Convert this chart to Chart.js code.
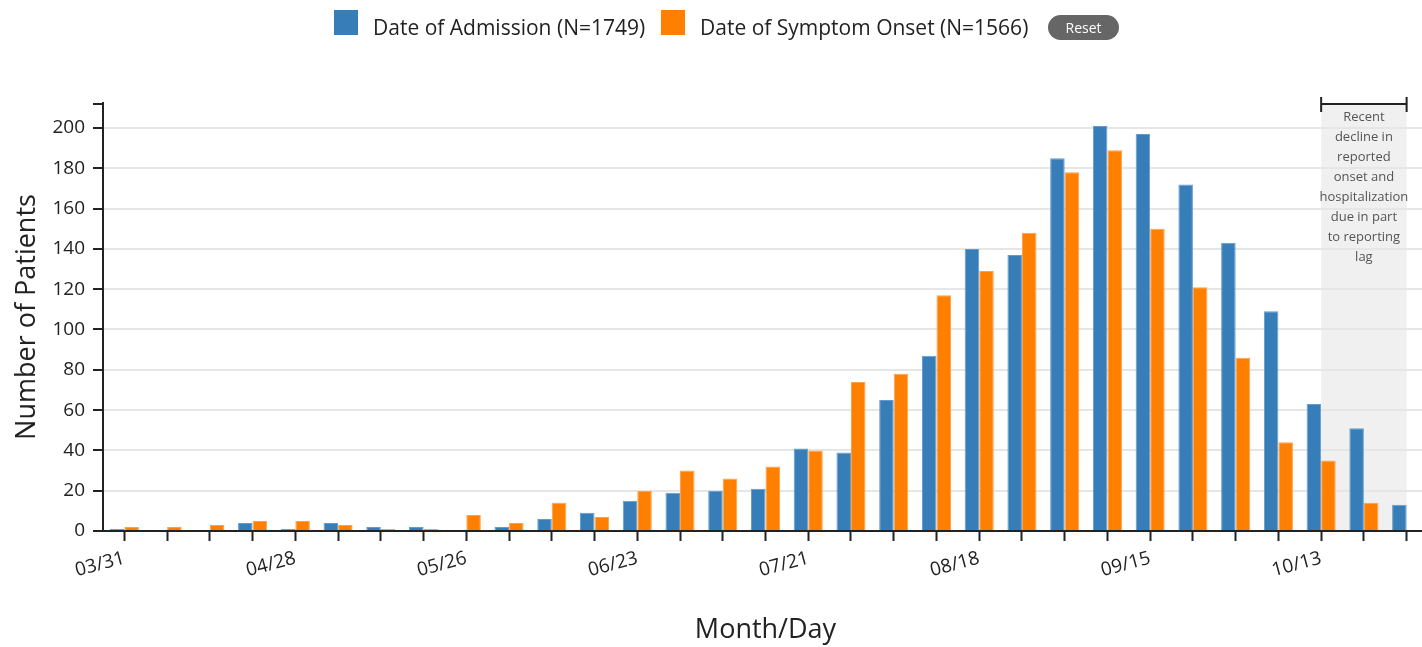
<!DOCTYPE html>
<html>
<head>
<meta charset="utf-8">
<script src="https://cdn.jsdelivr.net/npm/chart.js@4"></script>
<style>
  html, body { margin: 0; padding: 0; background: #fff; overflow: hidden; }
  #wrap { position: relative; width: 1432px; height: 647px; }
  #legend { position: absolute; left: 0; top: 0; width: 1422px; height: 50px; font-family: "Open Sans", sans-serif; color: #222; }
  .box { position: absolute; top: 10px; width: 24px; height: 25px; }
  .lbl { position: absolute; top: 13px; font-size: 21px; line-height: 28px; white-space: nowrap; }
  #reset { position: absolute; left: 1048px; top: 15px; width: 71px; height: 25px; border-radius: 13px; background: #666; color: #fff; font-size: 14px; line-height: 25px; text-align: center; }
</style>
</head>
<body>
<div id="wrap">
  <canvas id="c" width="1432" height="647"></canvas>
  <div id="legend">
    <div class="box" style="left:334px;background:#377eb8"></div>
    <div class="lbl" id="l1" style="left:373px"></div>
    <div class="box" style="left:661px;background:#ff7f00"></div>
    <div class="lbl" id="l2" style="left:700px"></div>
    <div id="reset">Reset</div>
  </div>
</div>
<script>
// ---- data ----
const weeks = ['03/31','04/07','04/14','04/21','04/28','05/05','05/12','05/19','05/26','06/02','06/09','06/16','06/23','06/30','07/07','07/14','07/21','07/28','08/04','08/11','08/18','08/25','09/01','09/08','09/15','09/22','09/29','10/06','10/13','10/20','10/27'];
const admission = [1,0,0,4,1,4,2,2,0,2,6,9,15,19,20,21,41,39,65,87,140,137,185,201,197,172,143,109,63,51,13];
const onset     = [2,2,3,5,5,3,1,1,8,4,14,7,20,30,26,32,40,74,78,117,129,148,178,189,150,121,86,44,35,14,0];
const labeledWeeks = ['03/31','04/28','05/26','06/23','07/21','08/18','09/15','10/13'];
const yTicks = [0,20,40,60,80,100,120,140,160,180,200];
const seriesNames = ['Date of Admission (N=1749)','Date of Symptom Onset (N=1566)'];
const lagStart = '10/13', lagEnd = '10/27';
const lagNote = ['Recent','decline in','reported','onset and','hospitalization','due in part','to reporting','lag'];
const xTitle = 'Month/Day', yTitle = 'Number of Patients';

document.getElementById('l1').textContent = seriesNames[0];
document.getElementById('l2').textContent = seriesNames[1];

Chart.defaults.font.family = '"Open Sans", sans-serif';
Chart.defaults.color = '#222';

const AXIS = '#222';

const lagPlugin = {
  id: 'lag',
  beforeDraw(chart) {
    const {ctx, chartArea, scales} = chart;
    const x0 = scales.x.getPixelForValue(weeks.indexOf(lagStart));
    const x1 = scales.x.getPixelForValue(weeks.indexOf(lagEnd));
    ctx.save();
    ctx.fillStyle = '#f0f0f0';
    ctx.fillRect(x0, chartArea.top, x1 - x0, chartArea.bottom - chartArea.top);
    ctx.restore();
  },
  afterDraw(chart) {
    const {ctx, chartArea, scales} = chart;
    const x0 = scales.x.getPixelForValue(weeks.indexOf(lagStart));
    const x1 = scales.x.getPixelForValue(weeks.indexOf(lagEnd));
    const yb = chartArea.top + 1;
    ctx.save();
    ctx.strokeStyle = AXIS;
    ctx.lineWidth = 2;
    ctx.beginPath();
    ctx.moveTo(x0, yb); ctx.lineTo(x1, yb);
    ctx.moveTo(x0, yb - 7); ctx.lineTo(x0, yb + 8);
    ctx.moveTo(x1, yb - 7); ctx.lineTo(x1, yb + 8);
    // y-axis outer end tick
    ctx.moveTo(chartArea.left - 10, chartArea.top + 1); ctx.lineTo(chartArea.left, chartArea.top + 1);
    ctx.stroke();
    ctx.fillStyle = '#555';
    ctx.font = '13px "Open Sans", sans-serif';
    ctx.textAlign = 'center';
    ctx.textBaseline = 'middle';
    const cx = (x0 + x1) / 2;
    lagNote.forEach((t, i) => ctx.fillText(t, cx, chartArea.top + 14 + i * 20));
    ctx.restore();
  }
};

new Chart(document.getElementById('c'), {
  type: 'bar',
  data: {
    labels: weeks,
    datasets: [
      { label: seriesNames[0], data: admission, backgroundColor: '#377eb8', borderColor: '#629bcd', borderWidth: 1 },
      { label: seriesNames[1], data: onset, backgroundColor: '#ff7f00', borderColor: '#ffa04a', borderWidth: 1 }
    ]
  },
  options: {
    responsive: false,
    animation: false,
    devicePixelRatio: 1,
    categoryPercentage: 0.68,
    barPercentage: 1.0,
    layout: { padding: { top: 103, right: 4, left: 0, bottom: 0 } },
    plugins: { legend: { display: false }, tooltip: { enabled: false } },
    scales: {
      x: {
        offset: true,
        grid: { display: true, offset: false, drawOnChartArea: false, drawTicks: true, tickLength: 10, tickColor: AXIS, tickWidth: 2 },
        border: { display: true, color: AXIS, width: 2 },
        ticks: {
          autoSkip: false, minRotation: 15, maxRotation: 15, padding: 6,
          font: { size: 19 }, color: '#222',
          callback: (v, i) => labeledWeeks.includes(weeks[i]) ? weeks[i] : ''
        },
        title: { display: true, text: xTitle, font: { size: 27, lineHeight: 1.2 }, color: '#222', padding: { top: 0, bottom: 0 } },
        afterFit: s => { s.height = 116; }
      },
      y: {
        min: 0, max: 212.4,
        afterBuildTicks: s => { s.ticks = yTicks.map(v => ({ value: v })); },
        ticks: { font: { size: 19 }, color: '#222', padding: 8 },
        grid: { color: '#e6e6e6', lineWidth: 2, tickColor: AXIS, tickLength: 10, tickWidth: 2 },
        border: { display: true, color: AXIS, width: 2 },
        title: { display: true, text: yTitle, font: { size: 27, lineHeight: 1.2 }, color: '#222', padding: { top: 11, bottom: 0 } },
        afterFit: s => { s.width = 103; }
      }
    }
  },
  plugins: [lagPlugin]
});
</script>
</body>
</html>
